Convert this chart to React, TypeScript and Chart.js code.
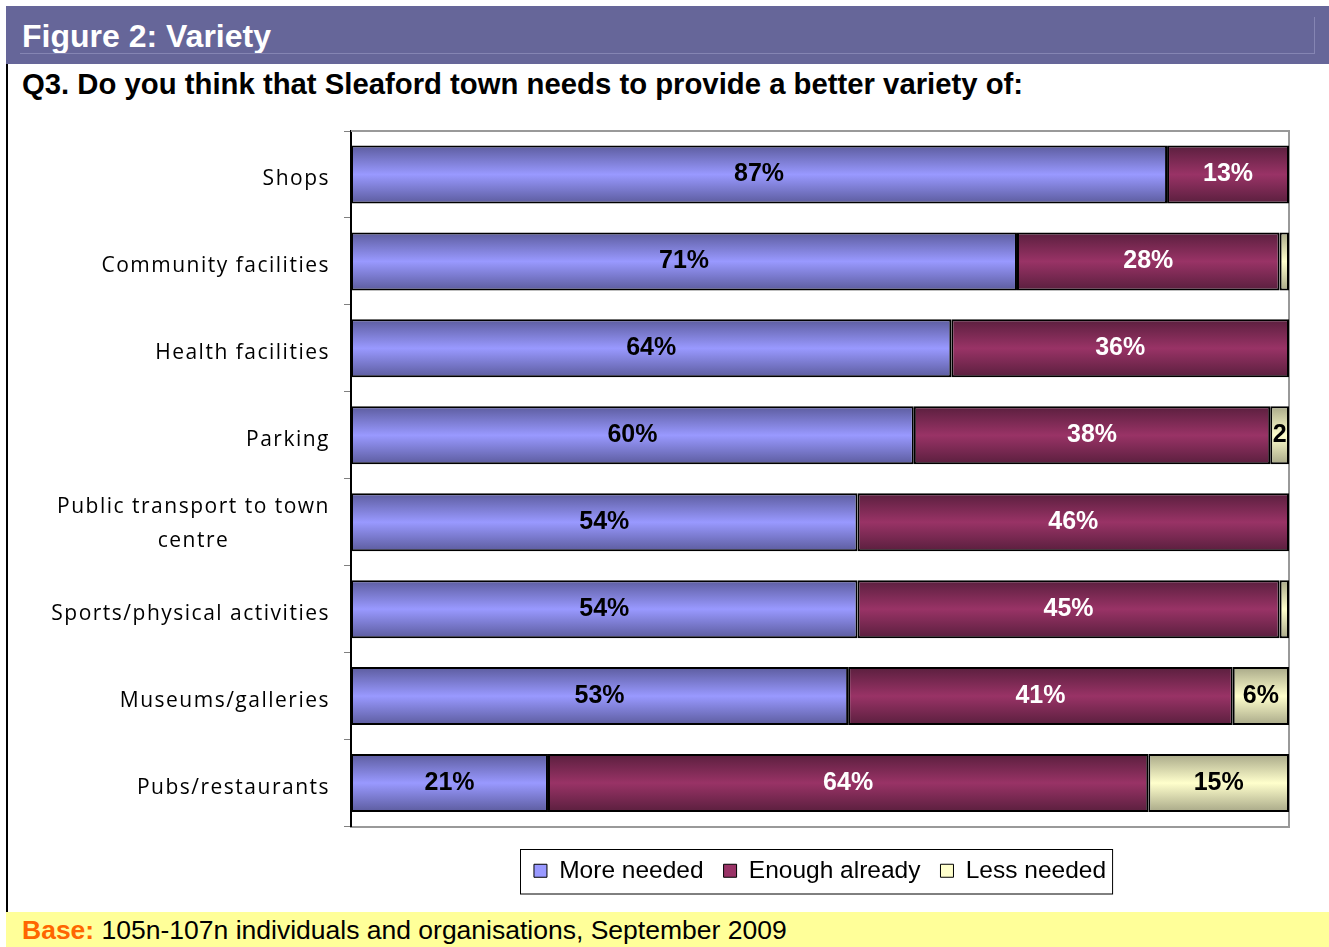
import React, { useEffect, useRef } from 'react';
import { Chart, registerables } from 'chart.js';

Chart.register(...registerables);

const categories: (string | string[])[] = [
  'Shops',
  'Community facilities',
  'Health facilities',
  'Parking',
  ['Public transport to town', 'centre'],
  'Sports/physical activities',
  'Museums/galleries',
  'Pubs/restaurants',
];

const moreNeeded = [87, 71, 64, 60, 54, 54, 53, 21];
const enoughAlready = [13, 28, 36, 38, 46, 45, 41, 64];
const lessNeeded = [0, 1, 0, 2, 0, 1, 6, 15];

const seriesNames = ['More needed', 'Enough already', 'Less needed'];

const ARIAL = 'Arial, "Liberation Sans", sans-serif';
const BAR_FRACTION = 0.667;

// solid colour for the legend, light centre / dark edge for the bars
const solid = ['#9999ff', '#993366', '#ffffcc'];
const edge = ['#5c5c9e', '#5a1f3e', '#a8a888'];
const labelColor = ['#000', '#fff', '#000'];

const barFill = (idx: number) => (ctx: any) => {
  const chart = ctx.chart;
  const y = chart.scales?.y;
  if (!y || !chart.chartArea || ctx.dataIndex === undefined) return solid[idx];
  const c = y.getPixelForValue(ctx.dataIndex);
  const h = (y.height / categories.length) * BAR_FRACTION;
  const g = chart.ctx.createLinearGradient(0, c - h / 2, 0, c + h / 2);
  g.addColorStop(0, edge[idx]);
  g.addColorStop(0.5, solid[idx]);
  g.addColorStop(1, edge[idx]);
  return g;
};

const framePlugin = {
  id: 'frame',
  beforeDatasetsDraw(chart: any) {
    const { ctx, chartArea } = chart;
    ctx.save();
    ctx.strokeStyle = '#999999';
    ctx.lineWidth = 2;
    ctx.beginPath();
    ctx.moveTo(chartArea.left, chartArea.top);
    ctx.lineTo(chartArea.right, chartArea.top);
    ctx.lineTo(chartArea.right, chartArea.bottom);
    ctx.stroke();
    ctx.restore();
  },
};

const valueLabels = {
  id: 'valueLabels',
  afterDatasetsDraw(chart: any) {
    const { ctx } = chart;
    ctx.save();
    ctx.font = `bold 25px ${ARIAL}`;
    ctx.textAlign = 'center';
    ctx.textBaseline = 'middle';
    chart.data.datasets.forEach((ds: any, di: number) => {
      const meta = chart.getDatasetMeta(di);
      meta.data.forEach((el: any, i: number) => {
        const v = ds.data[i];
        if (v < 2) return;
        const { x, base, y, height } = el.getProps(['x', 'base', 'y', 'height'], true);
        const w = Math.abs(x - base);
        let text = `${v}%`;
        if (ctx.measureText(text).width > w - 4) text = `${v}`;
        ctx.save();
        ctx.beginPath();
        ctx.rect(Math.min(x, base), y - height / 2, w, height);
        ctx.clip();
        ctx.fillStyle = labelColor[di];
        ctx.fillText(text, (x + base) / 2, y);
        ctx.restore();
      });
    });
    ctx.restore();
  },
};

const categoryLabels = {
  id: 'categoryLabels',
  afterDraw(chart: any) {
    const { ctx, chartArea } = chart;
    const yScale = chart.scales.y;
    ctx.save();
    ctx.font = `21px "Open Sans", sans-serif`;
    (ctx as any).letterSpacing = '1.5px';
    ctx.fillStyle = '#000';
    ctx.textAlign = 'center';
    ctx.textBaseline = 'middle';
    const right = chartArea.left - 21;
    const lineH = 34;
    categories.forEach((lab, i) => {
      const lines = Array.isArray(lab) ? lab : [lab];
      const w = Math.max(...lines.map((l) => ctx.measureText(l).width));
      const cy = yScale.getPixelForValue(i);
      const shift = lines.length > 1 ? 2 : 5;
      lines.forEach((l, k) => {
        const ly = cy + (k - (lines.length - 1) / 2) * lineH + shift;
        ctx.fillText(l, right - w / 2, ly);
      });
    });
    ctx.restore();
  },
};

const legendBox = {
  id: 'legendBox',
  afterDraw(chart: any) {
    const boxes = chart.legend?.legendHitBoxes;
    if (!boxes || !boxes.length) return;
    const left = Math.min(...boxes.map((b: any) => b.left)) - 14;
    const right = Math.max(...boxes.map((b: any) => b.left + b.width)) + 6;
    const top = Math.min(...boxes.map((b: any) => b.top)) - 10;
    const bottom = Math.max(...boxes.map((b: any) => b.top + b.height)) + 10;
    const { ctx } = chart;
    ctx.save();
    ctx.strokeStyle = '#000';
    ctx.lineWidth = 1;
    ctx.strokeRect(Math.round(left) + 0.5, Math.round(top) + 0.5, right - left, bottom - top);
    ctx.restore();
  },
};

const VarietyChart: React.FC = () => {
  const canvasRef = useRef<HTMLCanvasElement>(null);
  const chartRef = useRef<Chart | null>(null);

  useEffect(() => {
    if (!canvasRef.current) return;
    if (chartRef.current) chartRef.current.destroy();

    const values = [moreNeeded, enoughAlready, lessNeeded];

    chartRef.current = new Chart(canvasRef.current, {
      type: 'bar',
      data: {
        labels: categories,
        datasets: values.map((data, idx) => ({
          label: seriesNames[idx],
          data,
          backgroundColor: barFill(idx),
          borderColor: '#000',
          borderWidth: 2,
          borderSkipped: false,
          categoryPercentage: BAR_FRACTION,
          barPercentage: 1,
        })),
      },
      options: {
        indexAxis: 'y',
        animation: false,
        responsive: true,
        maintainAspectRatio: false,
        layout: { padding: { top: 21, right: 40, bottom: 8, left: 0 } },
        scales: {
          x: {
            stacked: true,
            min: 0,
            max: 100,
            ticks: { display: false },
            grid: { display: false },
            border: { display: true, color: '#999999', width: 2 },
            afterFit: (s: any) => {
              s.height = 12;
            },
          },
          y: {
            stacked: true,
            ticks: { display: false },
            grid: {
              display: true,
              drawOnChartArea: false,
              drawTicks: true,
              tickLength: 7,
              color: '#808080',
              offset: true,
            },
            border: { display: true, color: '#000', width: 2 },
            afterFit: (s: any) => {
              s.width = 343;
            },
          },
        },
        plugins: {
          legend: {
            position: 'bottom',
            fullSize: false,
            labels: {
              font: { family: ARIAL, size: 24.5 },
              color: '#000',
              boxWidth: 13,
              boxHeight: 13,
              padding: 20,
              generateLabels: () =>
                seriesNames.map((text, i) => ({
                  text,
                  fillStyle: solid[i],
                  strokeStyle: '#000',
                  lineWidth: 1,
                  datasetIndex: i,
                  fontColor: '#000',
                })),
            },
          },
          tooltip: { enabled: false },
        },
      },
      plugins: [framePlugin, valueLabels, categoryLabels, legendBox],
    });

    return () => {
      if (chartRef.current) {
        chartRef.current.destroy();
        chartRef.current = null;
      }
    };
  }, []);

  return <canvas ref={canvasRef} />;
};

const App: React.FC = () => {
  return (
    <div
      style={{
        position: 'absolute',
        left: 6,
        top: 6,
        width: 1323,
        height: 941,
        background: '#fff',
        fontFamily: ARIAL,
        overflow: 'hidden',
      }}
    >
      {/* header bar */}
      <div
        style={{
          position: 'absolute',
          left: 0,
          top: 0,
          width: 1323,
          height: 58,
          background: '#666699',
          color: '#fff',
          fontWeight: 'bold',
          fontSize: 32,
          lineHeight: '60px',
          paddingLeft: 16,
          boxSizing: 'border-box',
        }}
      >
        Figure 2: Variety
        <div
          style={{
            position: 'absolute',
            left: 14,
            top: 11,
            width: 1295,
            height: 37,
            borderRight: '1px solid #8585b3',
            borderBottom: '1px solid #8585b3',
            boxSizing: 'border-box',
          }}
        />
      </div>
      {/* left frame line */}
      <div style={{ position: 'absolute', left: 0, top: 58, width: 2, height: 848, background: '#000' }} />
      <div
        style={{
          position: 'absolute',
          left: 16,
          top: 63,
          fontSize: 29.3,
          fontWeight: 'bold',
          lineHeight: '30px',
          color: '#000',
          whiteSpace: 'nowrap',
        }}
      >
        Q3. Do you think that Sleaford town needs to provide a better variety of:
      </div>
      <div style={{ position: 'absolute', left: 2, top: 104, width: 1321, height: 791 }}>
        <VarietyChart />
      </div>
      {/* footer */}
      <div
        style={{
          position: 'absolute',
          left: 0,
          top: 906,
          width: 1323,
          height: 35,
          background: '#ffff99',
          fontSize: 26.5,
          lineHeight: '36px',
          paddingLeft: 16,
          boxSizing: 'border-box',
          whiteSpace: 'nowrap',
        }}
      >
        <span style={{ color: '#ff6600', fontWeight: 'bold' }}>Base:</span> 105n-107n individuals and
        organisations, September 2009
      </div>
    </div>
  );
};

export default App;
